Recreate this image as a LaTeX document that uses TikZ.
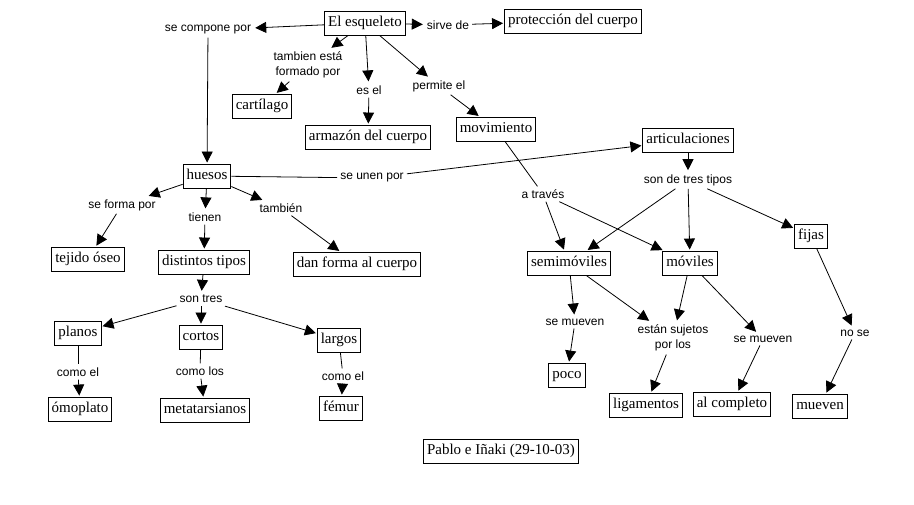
\documentclass[tikz,border=0pt]{standalone}
\usepackage{fontspec}
\setmainfont{Liberation Serif}
\newfontfamily\lblfont{Liberation Sans}
\usetikzlibrary{arrows.meta}
\begin{document}
\begin{tikzpicture}[x=1pt,y=-1pt,
  concept/.style={draw, line width=0.9pt, font=\fontsize{15}{16}\selectfont, inner xsep=3.5pt, inner ysep=5pt, text height=10.5pt, text depth=3.5pt},
  lbl/.style={font=\lblfont\fontsize{12}{15.5}\selectfont, inner sep=3pt, align=center},
  arr/.style={-{Triangle[length=11pt,width=11pt]}, line width=0.8pt, shorten >=1pt},
  ln/.style={line width=0.8pt}]
\useasboundingbox[fill=white] (0,0) rectangle (914,504);
% concepts
\node[concept] (esq) at (365,23) {El esqueleto};
\node[concept] (prot) at (573,21) {protección del cuerpo};
\node[concept] (cart) at (262,106) {cartílago};
\node[concept] (armaz) at (368,137) {armazón del cuerpo};
\node[concept] (mov) at (496,129) {movimiento};
\node[concept] (huesos) at (207,176) {huesos};
\node[concept] (artic) at (688,140) {articulaciones};
\node[concept] (tejido) at (88,259) {tejido óseo};
\node[concept] (dist) at (204,262) {distintos tipos};
\node[concept] (danforma) at (357,264) {dan forma al cuerpo};
\node[concept] (planos) at (78,333) {planos};
\node[concept] (cortos) at (201,337) {cortos};
\node[concept] (largos) at (339,340) {largos};
\node[concept] (omop) at (80,409) {ómoplato};
\node[concept] (meta) at (205,410) {metatarsianos};
\node[concept] (femur) at (341,408) {fémur};
\node[concept] (semi) at (569,263) {semimóviles};
\node[concept] (moviles) at (690,263) {móviles};
\node[concept] (fijas) at (811,236) {fijas};
\node[concept] (poco) at (567,375) {poco};
\node[concept] (ligam) at (646,405) {ligamentos};
\node[concept] (alcomp) at (732,404) {al completo};
\node[concept] (mueven) at (820,406) {mueven};
\node[concept] (footer) at (501,451) {Pablo e Iñaki (29-10-03)};
% labels
\node[lbl] (sirve) at (448,25) {sirve de};
\node[lbl] (scomp) at (208,30) {se compone por};
\node[lbl] (tamb) at (308,65) {tambien está\\formado por};
\node[lbl] (esel) at (369,90) {es el};
\node[lbl] (permite) at (439,86) {permite el};
\node[lbl] (seunen) at (372,178) {se unen por};
\node[lbl] (seforma) at (122,205) {se forma por};
\node[lbl] (tienen) at (205,217) {tienen};
\node[lbl] (tambien) at (281,208) {también};
\node[lbl] (sontres) at (201,299) {son tres};
\node[lbl] (comoela) at (78,372) {como el};
\node[lbl] (comolos) at (200,371) {como los};
\node[lbl] (comoelb) at (343,376) {como el};
\node[lbl] (atraves) at (543,194) {a través};
\node[lbl] (sontipos) at (688,180) {son de tres tipos};
\node[lbl] (semuevena) at (575,322) {se mueven};
\node[lbl] (sujetos) at (673,338) {están sujetos\\por los};
\node[lbl] (semuevenb) at (763,339) {se mueven};
\node[lbl] (nose) at (855,333) {no se};
% connectors
\draw[arr] (esq) -- (scomp);
\draw[arr] (scomp) -- (huesos);
\draw[arr] (esq) -- (sirve);
\draw[arr] (sirve) -- (prot);
\draw[arr] (esq) -- (tamb);
\draw[arr] (tamb) -- (cart);
\draw[arr] (esq) -- (esel);
\draw[arr] (esel) -- (armaz);
\draw[arr] (esq) -- (permite);
\draw[arr] (permite) -- (mov);
\draw[ln] (huesos) -- (seunen);
\draw[arr] (seunen) -- (artic);
\draw[arr] (huesos) -- (seforma);
\draw[arr] (seforma) -- (tejido);
\draw[arr] (huesos) -- (tienen);
\draw[arr] (tienen) -- (dist);
\draw[arr] (huesos) -- (tambien);
\draw[arr] (tambien) -- (danforma);
\draw[arr] (dist) -- (sontres);
\draw[arr] (sontres) -- (planos);
\draw[arr] (sontres) -- (cortos);
\draw[arr] (sontres) -- (largos);
\draw[ln] (planos) -- (comoela);
\draw[arr] (comoela) -- (omop);
\draw[ln] (cortos) -- (comolos);
\draw[arr] (comolos) -- (meta);
\draw[ln] (largos) -- (comoelb);
\draw[arr] (comoelb) -- (femur);
\draw[ln] (mov) -- (atraves);
\draw[arr] (atraves) -- (semi);
\draw[arr] (atraves) -- (moviles);
\draw[arr] (artic) -- (sontipos);
\draw[arr] (sontipos) -- (semi);
\draw[arr] (sontipos) -- (moviles);
\draw[arr] (sontipos) -- (fijas);
\draw[arr] (semi) -- (semuevena);
\draw[arr] (semuevena) -- (poco);
\draw[arr] (semi) -- (sujetos);
\draw[arr] (moviles) -- (sujetos);
\draw[arr] (sujetos) -- (ligam);
\draw[arr] (moviles) -- (semuevenb);
\draw[arr] (semuevenb) -- (alcomp);
\draw[arr] (fijas) -- (nose);
\draw[arr] (nose) -- (mueven);
\end{tikzpicture}
\end{document}
